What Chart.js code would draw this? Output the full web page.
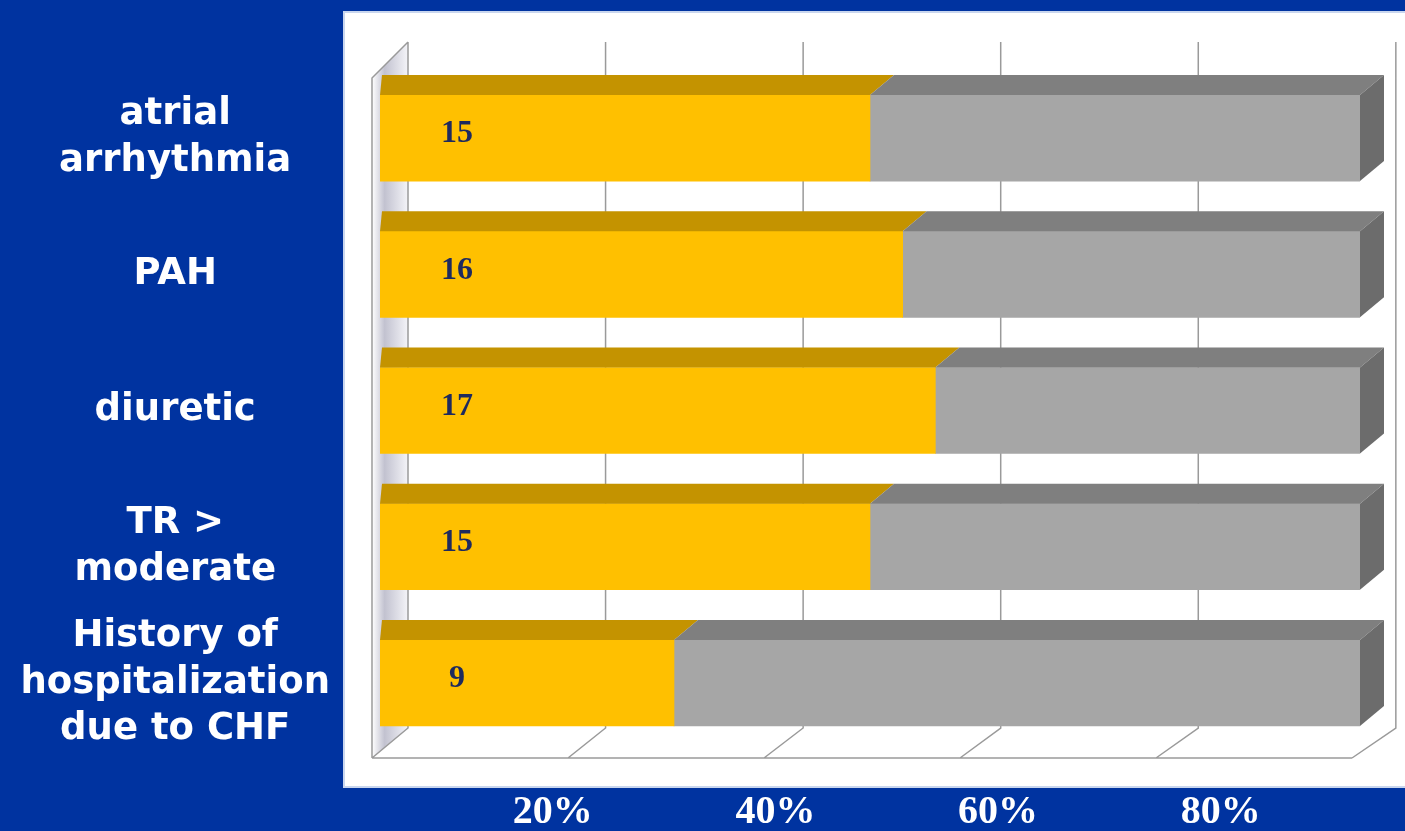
<!DOCTYPE html>
<html>
<head>
<meta charset="utf-8">
<script src="https://cdn.jsdelivr.net/npm/chart.js@4.4.0/dist/chart.umd.min.js"></script>
<style>
  html, body { margin: 0; padding: 0; background: #0033a0; }
  #wrap { width: 1405px; height: 831px; position: relative; }
</style>
</head>
<body>
<div id="wrap"><canvas id="chartRisk"></canvas></div>
<script>
// data
const categories = [
  ["atrial", "arrhythmia"],
  "PAH",
  "diuretic",
  ["TR >", "moderate"],
  ["History of", "hospitalization", "due to CHF"]
];
const yesCounts = [15, 16, 17, 15, 9];
const noCounts = [15, 14, 13, 15, 21];
const tickValues = [20, 40, 60, 80];

// 100% stacked shares
const yesPct = yesCounts.map((v, i) => v / (v + noCounts[i]) * 100);
const noPct = noCounts.map((v, i) => v / (v + yesCounts[i]) * 100);

const YELLOW = '#ffc000', YELLOW_TOP = '#c49300';
const GRAY = '#a6a6a6', GRAY_TOP = '#7f7f7f', GRAY_SIDE = '#6c6c6c';

// panel, back wall, floor, left wall
const wallPlugin = {
  id: 'wall',
  beforeDraw(chart) {
    const { ctx, chartArea: a, scales } = chart;
    const x = scales.x;
    ctx.save();
    // white panel
    ctx.fillStyle = '#ffffff';
    ctx.fillRect(a.left - 36, a.top - 58, chart.width - (a.left - 36), a.bottom + 36 - (a.top - 58));
    ctx.strokeStyle = '#c9d6ee';
    ctx.lineWidth = 2;
    ctx.strokeRect(a.left - 36, a.top - 58, chart.width - (a.left - 36) + 4, a.bottom + 36 - (a.top - 58));

    const backTop = a.top - 28, backBot = a.bottom - 23, floorY = a.bottom + 7;
    const front = v => x.getPixelForValue(v) - 8;
    const back = v => a.left + 28 + (x.getPixelForValue(v) - a.left) * 1.008;

    // left wall shading
    const g = ctx.createLinearGradient(front(0), 0, back(0), 0);
    g.addColorStop(0, '#ffffff');
    g.addColorStop(0.35, '#c2c2d0');
    g.addColorStop(1, '#f4f4f8');
    ctx.fillStyle = g;
    ctx.beginPath();
    ctx.moveTo(front(0), a.top + 8);
    ctx.lineTo(back(0), backTop);
    ctx.lineTo(back(0), backBot);
    ctx.lineTo(front(0), floorY);
    ctx.closePath();
    ctx.fill();

    ctx.strokeStyle = '#9a9a9a';
    ctx.lineWidth = 1.5;
    ctx.beginPath();
    ctx.moveTo(front(0), floorY);
    ctx.lineTo(front(0), a.top + 8);
    ctx.lineTo(back(0), backTop);
    for (let v = 0; v <= 100; v += 20) {
      ctx.moveTo(back(v), backTop);
      ctx.lineTo(back(v), backBot);
      ctx.lineTo(front(v), floorY);
    }
    ctx.moveTo(front(0), floorY);
    ctx.lineTo(front(100), floorY);
    ctx.stroke();
    ctx.restore();
  }
};

// 3D top and end faces plus count labels
const barFacesPlugin = {
  id: 'barFaces',
  afterDatasetsDraw(chart) {
    const { ctx, chartArea: a } = chart;
    const dx = 24, dy = 20;
    const m0 = chart.getDatasetMeta(0), m1 = chart.getDatasetMeta(1);
    ctx.save();
    m0.data.forEach((bar, i) => {
      const g = m1.data[i];
      const top = bar.y - bar.height / 2, bot = bar.y + bar.height / 2;
      const x0 = bar.base, x1 = bar.x, x2 = g.x;
      ctx.fillStyle = YELLOW_TOP;
      ctx.beginPath();
      ctx.moveTo(x0, top); ctx.lineTo(x1, top); ctx.lineTo(x1 + dx, top - dy); ctx.lineTo(x0 + 2, top - dy);
      ctx.closePath(); ctx.fill();
      ctx.fillStyle = GRAY_TOP;
      ctx.beginPath();
      ctx.moveTo(x1, top); ctx.lineTo(x2, top); ctx.lineTo(x2 + dx, top - dy); ctx.lineTo(x1 + dx, top - dy);
      ctx.closePath(); ctx.fill();
      ctx.fillStyle = GRAY_SIDE;
      ctx.beginPath();
      ctx.moveTo(x2, top); ctx.lineTo(x2 + dx, top - dy); ctx.lineTo(x2 + dx, bot - dy); ctx.lineTo(x2, bot);
      ctx.closePath(); ctx.fill();

      ctx.fillStyle = '#1e2a5e';
      ctx.font = 'bold 32px "Liberation Serif"';
      ctx.textAlign = 'center';
      ctx.textBaseline = 'middle';
      ctx.fillText(String(yesCounts[i]), a.left + 77, bar.y - 4);
    });
    ctx.restore();
  }
};

const ctx = document.getElementById('chartRisk').getContext('2d');
const chart = new Chart(ctx, {
  type: 'bar',
  data: {
    labels: categories,
    datasets: [
      { label: 'yes', data: yesPct, backgroundColor: YELLOW, borderWidth: 0 },
      { label: 'no', data: noPct, backgroundColor: GRAY, borderWidth: 0 }
    ]
  },
  options: {
    indexAxis: 'y',
    responsive: true,
    maintainAspectRatio: false,
    animation: false,
    datasets: { bar: { barThickness: 86 } },
    layout: { autoPadding: false, padding: { top: 70, right: 45, left: 0, bottom: 0 } },
    plugins: { legend: { display: false }, tooltip: { enabled: false } },
    scales: {
      x: { stacked: true, min: 0, max: 100, display: false },
      x2: {
        position: 'bottom',
        type: 'linear',
        min: 4.49,
        max: 92.5,
        afterBuildTicks: axis => { axis.ticks = tickValues.map(v => ({ value: v })); },
        afterFit: axis => { axis.height = 80; axis.paddingLeft = 0; axis.paddingRight = 0; },
        grid: { display: false, drawTicks: false },
        border: { display: false },
        ticks: {
          padding: 38,
          color: '#ffffff',
          font: { family: '"Liberation Serif"', weight: 'bold', size: 40 },
          callback: v => v + '%'
        }
      },
      y: {
        stacked: true,
        afterFit: axis => { axis.width = 380; axis.paddingTop = 0; axis.paddingBottom = 0; },
        grid: { display: false, drawTicks: false },
        border: { display: false },
        ticks: {
          autoSkip: false,
          crossAlign: 'center',
          padding: 50,
          color: '#ffffff',
          font: { family: '"DejaVu Sans"', weight: 'bold', size: 37, lineHeight: 1.27 }
        }
      }
    }
  },
  plugins: [wallPlugin, barFacesPlugin]
});
</script>
</body>
</html>
